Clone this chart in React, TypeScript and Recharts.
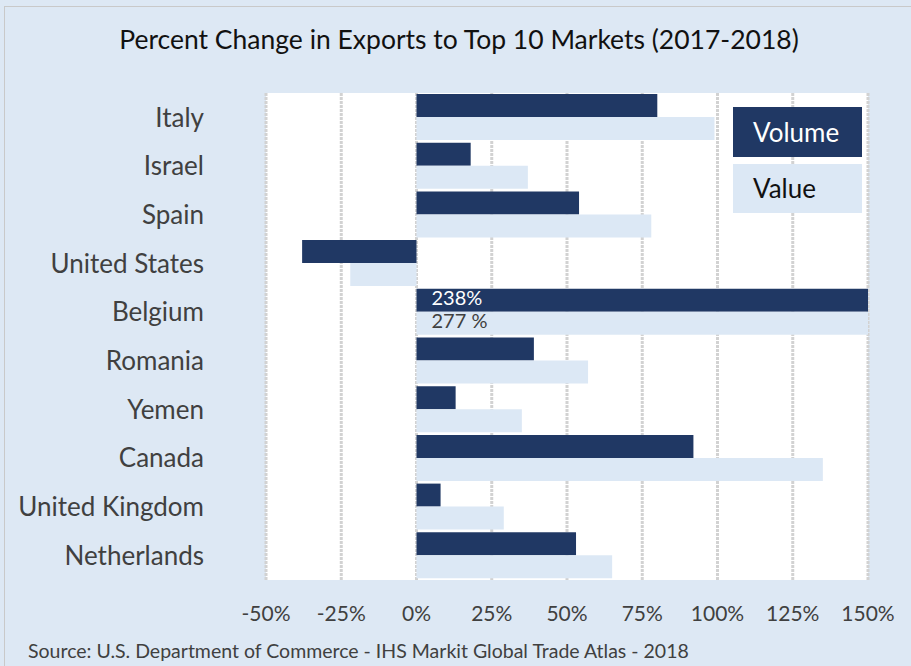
import React from "react";
import { BarChart, Bar, XAxis, YAxis, CartesianGrid, LabelList } from "recharts";

const markets = [
  "Italy",
  "Israel",
  "Spain",
  "United States",
  "Belgium",
  "Romania",
  "Yemen",
  "Canada",
  "United Kingdom",
  "Netherlands",
];
const volume = [80, 18, 54, -38, 238, 39, 13, 92, 8, 53];
const value = [99, 37, 78, -22, 277, 57, 35, 135, 29, 65];
const xTicks = [-50, -25, 0, 25, 50, 75, 100, 125, 150];

const NAVY = "#203864";
const LIGHT = "#dce8f5";
const BG = "#dde8f4";
const FONT = "Lato, 'Open Sans', sans-serif";

const data = markets.map((m, i) => ({ market: m, Volume: volume[i], Value: value[i] }));

const LegendBoxes = () => (
  <div style={{ position: "absolute", left: 733, top: 107, fontFamily: FONT }}>
    <div
      style={{
        width: 129,
        height: 50,
        background: NAVY,
        color: "#fff",
        fontSize: 26,
        lineHeight: "50px",
        paddingLeft: 20,
        boxSizing: "border-box",
      }}
    >
      Volume
    </div>
    <div
      style={{
        width: 129,
        height: 49,
        marginTop: 7,
        background: LIGHT,
        color: "#111",
        fontSize: 26,
        lineHeight: "49px",
        paddingLeft: 20,
        boxSizing: "border-box",
      }}
    >
      Value
    </div>
  </div>
);

// only Belgium overflows the axis, so its real value is written on the bar
const overflowLabel = (fill: string, suffix: string) => (props: any) => {
  const { x, y, height, value: v } = props;
  if (v <= 150) return null;
  return (
    <text
      x={x + 15}
      y={y + height / 2}
      fill={fill}
      fontSize={20}
      fontFamily={FONT}
      dominantBaseline="middle"
    >
      {`${v}${suffix}`}
    </text>
  );
};

export default function App() {
  return (
    <div
      style={{
        position: "absolute",
        left: 0,
        top: 0,
        width: 911,
        height: 666,
        background: BG,
        fontFamily: FONT,
        overflow: "hidden",
      }}
    >
      <div
        style={{
          position: "absolute",
          left: 4,
          top: 6,
          width: 920,
          height: 680,
          borderLeft: "1px solid #c9c9c9",
          borderTop: "1px solid #c9c9c9",
        }}
      />
      <div
        style={{
          position: "absolute",
          top: 23,
          left: 0,
          width: 918,
          textAlign: "center",
          fontSize: 26.5,
          color: "#111",
        }}
      >
        Percent Change in Exports to Top 10 Markets (2017-2018)
      </div>
      <div style={{ position: "absolute", left: 0, top: 0 }}>
        <BarChart
          width={911}
          height={666}
          data={data}
          layout="vertical"
          margin={{ top: 93, right: 43, bottom: 36, left: 16 }}
          barCategoryGap={1}
          barGap={0}
        >
          <CartesianGrid
            horizontal={false}
            stroke="#d2d2d2"
            strokeWidth={3}
            strokeDasharray="3 1"
            fill="#fff"
            fillOpacity={1}
          />
          <XAxis
            type="number"
            domain={[-50, 150]}
            ticks={xTicks}
            allowDataOverflow
            axisLine={false}
            tickLine={false}
            tickMargin={20}
            height={50}
            tickFormatter={(t) => `${t}%`}
            tick={{ fill: "#404040", fontSize: 21, fontFamily: FONT }}
          />
          <YAxis
            type="category"
            dataKey="market"
            width={250}
            axisLine={false}
            tickLine={false}
            tickSize={0}
            tickMargin={62}
            tick={{ fill: "#404040", fontSize: 26, fontFamily: FONT }}
          />
          <Bar dataKey="Volume" fill={NAVY} isAnimationActive={false}>
            <LabelList dataKey="Volume" content={overflowLabel("#fff", "%")} />
          </Bar>
          <Bar dataKey="Value" fill={LIGHT} isAnimationActive={false}>
            <LabelList dataKey="Value" content={overflowLabel("#404040", " %")} />
          </Bar>
        </BarChart>
      </div>
      <LegendBoxes />
      <div
        style={{
          position: "absolute",
          left: 28,
          top: 639,
          fontSize: 19.5,
          color: "#404040",
        }}
      >
        Source: U.S. Department of Commerce - IHS Markit Global Trade Atlas - 2018
      </div>
    </div>
  );
}
